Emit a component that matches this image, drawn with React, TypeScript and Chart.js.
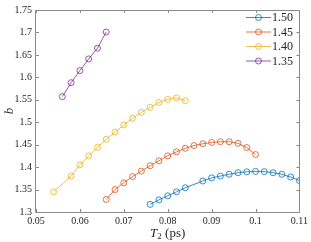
import React, { useEffect, useRef } from "react";
import { Chart, registerables } from "chart.js";

Chart.register(...registerables);

const seriesLabels = ["1.50", "1.45", "1.40", "1.35"];
const seriesColors = ["#0072BD", "#D95319", "#EDB120", "#7E2F8E"];

const x150 = [0.076, 0.078, 0.08, 0.082, 0.084, 0.088, 0.09, 0.092, 0.094, 0.096, 0.098, 0.1, 0.102, 0.104, 0.106, 0.108, 0.11];
const b150 = [1.317, 1.327, 1.336, 1.345, 1.354, 1.369, 1.376, 1.38, 1.384, 1.3875, 1.3895, 1.3905, 1.39, 1.3875, 1.384, 1.378, 1.37];

const x145 = [0.066, 0.068, 0.07, 0.072, 0.074, 0.076, 0.078, 0.08, 0.082, 0.084, 0.086, 0.088, 0.09, 0.092, 0.094, 0.096, 0.098, 0.1];
const b145 = [1.328, 1.35, 1.365, 1.379, 1.391, 1.403, 1.414, 1.425, 1.434, 1.442, 1.448, 1.452, 1.455, 1.4565, 1.4565, 1.453, 1.4435, 1.428];

const x140 = [0.054, 0.058, 0.06, 0.062, 0.064, 0.066, 0.068, 0.07, 0.072, 0.074, 0.076, 0.078, 0.08, 0.082, 0.084];
const b140 = [1.345, 1.38, 1.405, 1.425, 1.444, 1.462, 1.478, 1.494, 1.509, 1.522, 1.533, 1.544, 1.551, 1.554, 1.548];

const x135 = [0.056, 0.058, 0.06, 0.062, 0.064, 0.066];
const b135 = [1.557, 1.588, 1.615, 1.641, 1.665, 1.701];

const xTicks = [0.05, 0.06, 0.07, 0.08, 0.09, 0.1, 0.11];
const yTicks = [1.3, 1.35, 1.4, 1.45, 1.5, 1.55, 1.6, 1.65, 1.7, 1.75];

const xs = [x150, x145, x140, x135];
const bs = [b150, b145, b140, b135];

const FONT = "'Liberation Serif', 'DejaVu Serif', serif";
const AXIS_COLOR = "#262626";

const fmt = (v: number) => String(Number(v.toFixed(3)));

const decorPlugin = {
  id: "decor",
  afterDraw(chart: any) {
    const ctx = chart.ctx;
    const { left, right, top, bottom } = chart.chartArea;
    const xs_ = chart.scales.x;
    const ys_ = chart.scales.y;
    ctx.save();
    // box
    ctx.strokeStyle = "#8a8a8a";
    ctx.lineWidth = 1;
    ctx.beginPath();
    ctx.rect(Math.round(left) - 0.5, Math.round(top) + 0.5, Math.round(right - left) + 1, Math.round(bottom - top));
    ctx.stroke();
    // inward ticks
    const tl = 3;
    ctx.beginPath();
    xTicks.forEach((v) => {
      const px = Math.round(xs_.getPixelForValue(v)) + 0.5;
      ctx.moveTo(px, bottom);
      ctx.lineTo(px, bottom - tl);
      ctx.moveTo(px, top);
      ctx.lineTo(px, top + tl);
    });
    yTicks.forEach((v) => {
      const py = Math.round(ys_.getPixelForValue(v)) + 0.5;
      ctx.moveTo(left, py);
      ctx.lineTo(left + tl, py);
      ctx.moveTo(right, py);
      ctx.lineTo(right - tl, py);
    });
    ctx.stroke();

    // legend
    chart.data.datasets.forEach((ds: any, i: number) => {
      const y = 17.5 + i * 14.5;
      ctx.strokeStyle = ds.borderColor;
      ctx.lineWidth = 0.8;
      ctx.beginPath();
      ctx.moveTo(246, y);
      ctx.lineTo(271, y);
      ctx.stroke();
      ctx.beginPath();
      ctx.arc(258.5, y, 3, 0, Math.PI * 2);
      ctx.stroke();
      ctx.fillStyle = AXIS_COLOR;
      ctx.font = `12px ${FONT}`;
      ctx.textAlign = "left";
      ctx.textBaseline = "middle";
      ctx.fillText(ds.label, 272, y + 0.5);
    });

    // x title: T_2 (ps)
    ctx.fillStyle = AXIS_COLOR;
    ctx.textBaseline = "alphabetic";
    ctx.textAlign = "left";
    const cx = (left + right) / 2;
    ctx.font = `italic 13px ${FONT}`;
    const wT = ctx.measureText("T").width;
    ctx.font = `9px ${FONT}`;
    const w2 = ctx.measureText("2").width;
    ctx.font = `13px ${FONT}`;
    const wP = ctx.measureText(" (ps)").width;
    let x0 = cx - (wT + w2 + wP) / 2;
    const by = 237;
    ctx.font = `italic 13px ${FONT}`;
    ctx.fillText("T", x0, by);
    x0 += wT;
    ctx.font = `9px ${FONT}`;
    ctx.fillText("2", x0, by + 2);
    x0 += w2;
    ctx.font = `13px ${FONT}`;
    ctx.fillText(" (ps)", x0, by);

    // y title: b
    ctx.save();
    ctx.translate(13, (top + bottom) / 2);
    ctx.rotate(-Math.PI / 2);
    ctx.font = `italic 13px ${FONT}`;
    ctx.textAlign = "center";
    ctx.fillText("b", 0, 0);
    ctx.restore();

    ctx.restore();
  },
};

export default function App() {
  const ref = useRef<HTMLCanvasElement | null>(null);
  useEffect(() => {
    if (!ref.current) return;
    const datasets = seriesLabels.map((label, i) => ({
      label,
      data: xs[i].map((x, j) => ({ x, y: bs[i][j] })),
      borderColor: seriesColors[i],
      backgroundColor: "rgba(0,0,0,0)",
      pointBackgroundColor: "rgba(0,0,0,0)",
      pointBorderColor: seriesColors[i],
      pointRadius: 3,
      pointBorderWidth: 0.8,
      borderWidth: 0.8,
      showLine: true,
      tension: 0,
    }));
    const chart = new Chart(ref.current, {
      type: "scatter",
      data: { datasets },
      options: {
        responsive: false,
        animation: false,
        events: [],
        layout: { padding: { top: 4, right: 9, left: 0, bottom: 0 } },
        plugins: { legend: { display: false }, tooltip: { enabled: false } },
        scales: {
          x: {
            type: "linear",
            min: 0.05,
            max: 0.11,
            afterBuildTicks: (s: any) => {
              s.ticks = xTicks.map((v) => ({ value: v }));
            },
            afterFit: (s: any) => {
              s.height = 30;
            },
            grid: { display: false, drawTicks: false },
            border: { display: false },
            ticks: {
              autoSkip: false,
              maxRotation: 0,
              padding: 3,
              color: AXIS_COLOR,
              font: { family: FONT, size: 10 },
              callback: (v: any) => fmt(Number(v)),
            },
          },
          y: {
            type: "linear",
            min: 1.3,
            max: 1.75,
            afterBuildTicks: (s: any) => {
              s.ticks = yTicks.map((v) => ({ value: v }));
            },
            afterFit: (s: any) => {
              s.width = 36;
            },
            grid: { display: false, drawTicks: false },
            border: { display: false },
            ticks: {
              autoSkip: false,
              padding: 4,
              color: AXIS_COLOR,
              font: { family: FONT, size: 10 },
              callback: (v: any) => fmt(Number(v)),
            },
          },
        },
      },
      plugins: [decorPlugin],
    } as any);
    return () => chart.destroy();
  }, []);
  return (
    <div style={{ position: "fixed", left: 0, top: 0, width: 311, height: 242, background: "#fff" }}>
      <canvas ref={ref} width={311} height={242} style={{ width: 311, height: 242 }} />
    </div>
  );
}
